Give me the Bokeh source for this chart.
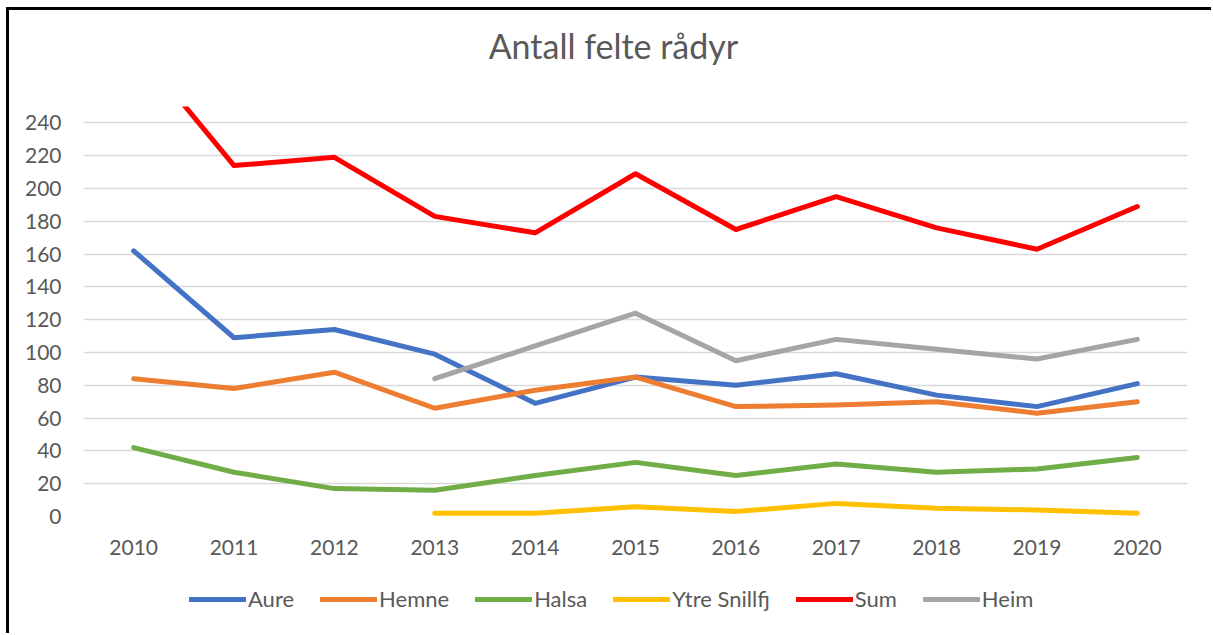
import numpy as np
from bokeh.plotting import figure
from bokeh.layouts import column
from bokeh.models import FactorRange, Legend, LegendItem, SingleIntervalTicker, Label
from bokeh.embed import file_html
from bokeh.resources import INLINE

years = ["2010", "2011", "2012", "2013", "2014", "2015", "2016", "2017", "2018", "2019", "2020"]
aure = [162, 109, 114, 99, 69, 85, 80, 87, 74, 67, 81]
hemne = [84, 78, 88, 66, 77, 85, 67, 68, 70, 63, 70]
halsa = [42, 27, 17, 16, 25, 33, 25, 32, 27, 29, 36]
ytre_snillfj = [None, None, None, 2, 2, 6, 3, 8, 5, 4, 2]
sum_total = [288, 214, 219, 183, 173, 209, 175, 195, 176, 163, 189]
heim = [None, None, None, 84, 104, 124, 95, 108, 102, 96, 108]
title_text = "Antall felte rådyr"

series_names = ["Aure", "Hemne", "Halsa", "Ytre Snillfj", "Sum", "Heim"]
series_values = [aure, hemne, halsa, ytre_snillfj, sum_total, heim]
series_colors = ["#4472C4", "#ED7D31", "#70AD47", "#FFC000", "#FF0000", "#A5A5A5"]

TEXT = "#595959"
FONT = "Lato"
W = 1202
LW = 5


def strip(height):
    f = figure(
        width=W, height=height, x_range=(0, 1), y_range=(0, 1),
        output_backend="svg", toolbar_location=None,
        x_axis_location=None, y_axis_location=None, min_border=0,
    )
    f.outline_line_color = None
    f.grid.visible = False
    return f


# title strip
tf = strip(70)
tf.add_layout(Label(
    x=0.48, y=0.5, text=title_text, text_align="center", text_baseline="middle",
    text_font=FONT, text_font_size="34px", text_color=TEXT,
))

p = figure(
    width=W, height=495,
    x_range=FactorRange(*years, range_padding=0),
    y_range=(0, 250),
    output_backend="svg", toolbar_location=None,
    min_border_left=74, min_border_right=W - 74 - 1104, min_border_top=26, min_border_bottom=59,
)
p.outline_line_color = None

for ax in (p.xaxis[0], p.yaxis[0]):
    ax.axis_line_color = None
    ax.major_tick_line_color = None
    ax.minor_tick_line_color = None
    ax.major_tick_out = 0
    ax.major_tick_in = 0
    ax.minor_tick_out = 0
    ax.major_label_text_font = FONT
    ax.major_label_text_font_size = "21px"
    ax.major_label_text_color = TEXT
p.yaxis[0].ticker = SingleIntervalTicker(interval=20)
p.yaxis[0].major_label_standoff = 22
p.xaxis[0].major_label_standoff = 23

p.xgrid.grid_line_color = None
p.ygrid.grid_line_color = "#D9D9D9"
p.ygrid.grid_line_width = 1.7
p.ygrid.ticker = SingleIntervalTicker(interval=20)

# legend strip below the chart (its swatch renderers sit outside the visible range)
lf = strip(58)

items = []
for name, vals, col in zip(series_names, series_values, series_colors):
    y = np.array([np.nan if v is None else v for v in vals], dtype=float)
    p.line(years, y, line_color=col, line_width=LW, line_cap="round", line_join="round")
    r = lf.line([5, 6], [5, 6], line_color=col, line_width=LW, line_cap="round")
    items.append(LegendItem(label=name, renderers=[r]))

legend = Legend(items=items, orientation="horizontal", location=(106, 21))
legend.glyph_width = 57
legend.glyph_height = 22
legend.label_height = 22
legend.label_standoff = 2
legend.spacing = 26
legend.label_text_font = FONT
legend.label_text_font_size = "22px"
legend.label_text_color = TEXT
legend.border_line_color = None
legend.background_fill_alpha = 0
legend.margin = 0
legend.padding = 0
lf.add_layout(legend)

layout = column(tf, p, lf, spacing=0, styles={
    "border-left": "3px solid black", "border-top": "3px solid black",
    "margin-left": "6px", "margin-top": "7px",
})

open("out.html", "w").write(file_html(layout, INLINE))
